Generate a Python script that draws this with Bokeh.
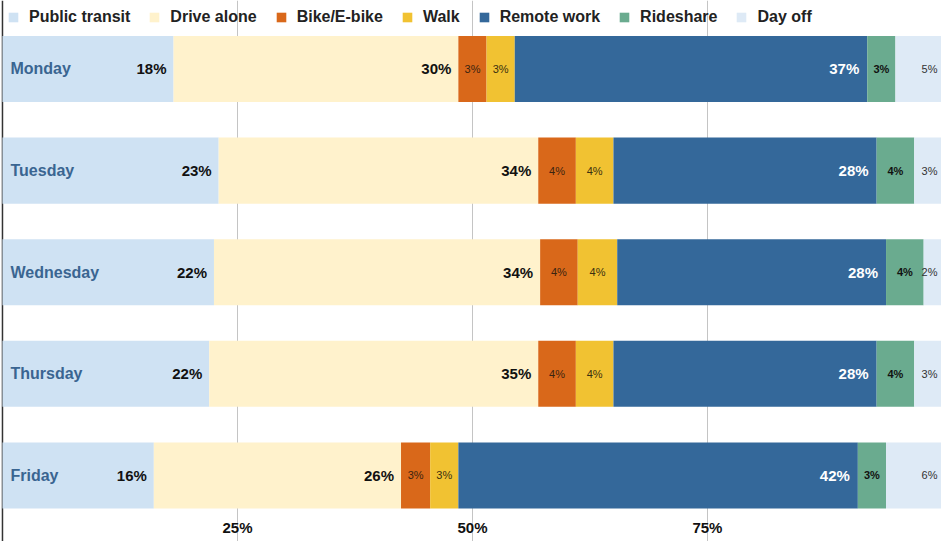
import numpy as np
from bokeh.plotting import figure
from bokeh.models import ColumnDataSource, Range1d, Span, Grid, FixedTicker, Legend
from bokeh.core.properties import value
from bokeh.embed import file_html
from bokeh.resources import INLINE

days = ["Monday", "Tuesday", "Wednesday", "Thursday", "Friday"]
modes = ["Public transit", "Drive alone", "Bike/E-bike", "Walk", "Remote work", "Rideshare", "Day off"]
colors = ["#cfe2f3", "#fff2cc", "#d9681a", "#f1c232", "#34689a", "#6aab8f", "#deeaf6"]

public_transit = [18.2, 23.0, 22.5, 22.0, 16.1]
drive_alone = [30.3, 34.0, 34.7, 35.0, 26.3]
bike = [3.0, 4.0, 4.0, 4.0, 3.1]
walk = [3.0, 4.0, 4.2, 4.0, 3.0]
remote_work = [37.5, 28.0, 28.6, 28.0, 42.5]
rideshare = [3.0, 4.0, 4.0, 4.0, 3.0]
day_off = [5.0, 3.0, 2.0, 3.0, 6.0]

tick_values = [25, 50, 75]
tick_labels = ["25%", "50%", "75%"]

series = [public_transit, drive_alone, bike, walk, remote_work, rideshare, day_off]

FONT = "Liberation Sans"

p = figure(width=941, height=541, output_backend="svg", toolbar_location=None,
           x_range=Range1d(-0.21, 99.9), y_range=Range1d(4.65, -0.674),
           x_axis_type=None, y_axis_type=None, min_border=0,
           outline_line_color=None, background_fill_color="white")

p.add_layout(Grid(dimension=0, ticker=FixedTicker(ticks=tick_values),
                  grid_line_color="#c4c4c4", grid_line_width=1))
p.add_layout(Span(location=0, dimension="height", line_color="#333333",
                  line_width=1.5, level="underlay"))

y = np.arange(len(days))
left = np.zeros(len(days))
renderers = []
# label styles per mode: (align, offset, size, weight, color)
styles = [
    ("right", -7, "15px", "bold", "#111111"),
    ("right", -7, "15px", "bold", "#111111"),
    ("center", 0, "11px", "normal", "#3a2410"),
    ("center", 0, "11px", "normal", "#3a3010"),
    ("right", -8, "15px", "bold", "#ffffff"),
    ("center", 0, "11px", "bold", "#111111"),
    ("right", -5, "11px", "normal", "#333333"),
]
for name, vals, col, st in zip(modes, series, colors, styles):
    vals = np.array(vals)
    right = left + vals
    src = ColumnDataSource(dict(y=y, left=left, right=right,
                                mid=(left + right) / 2,
                                lab=[f"{int(np.floor(v + 1e-9))}%" for v in vals]))
    r = p.hbar(y="y", left="left", right="right", height=0.65, source=src,
               fill_color=col, line_color=None)
    renderers.append((name, [r]))
    align, off, size, weight, tcol = st
    xcol = "right" if align == "right" else "mid"
    p.text(x=xcol, y="y", text="lab", source=src, text_align=align,
           text_baseline="middle", x_offset=off, text_font=value(FONT),
           text_font_size=size, text_font_style=weight, text_color=tcol)
    left = right

day_src = ColumnDataSource(dict(x=[0] * len(days), y=y, t=days))
p.text(x="x", y="y", text="t", source=day_src, x_offset=8, text_align="left",
       text_baseline="middle", text_font=value(FONT), text_font_size="16px",
       text_font_style="bold", text_color="#3a6591")

tick_src = ColumnDataSource(dict(x=tick_values, y=[4.51] * len(tick_values), t=tick_labels))
p.text(x="x", y="y", text="t", source=tick_src, text_align="center",
       text_baseline="middle", text_font=value(FONT), text_font_size="15px",
       text_font_style="bold", text_color="#111111")

legend = Legend(items=renderers, location="top_left", orientation="horizontal",
                margin=3, padding=4, spacing=18, label_standoff=10,
                glyph_width=12, glyph_height=12, label_height=20,
                label_text_font=FONT, label_text_font_size="16px",
                label_text_font_style="bold", label_text_color="#222222",
                background_fill_alpha=0, border_line_alpha=0)
p.add_layout(legend)

open("out.html", "w").write(file_html(p, INLINE))
